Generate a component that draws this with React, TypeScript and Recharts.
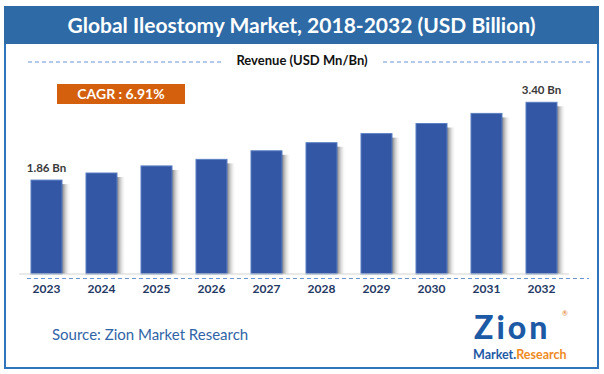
import React from 'react';
import { BarChart, Bar, XAxis, YAxis, LabelList } from 'recharts';

const years = ['2023', '2024', '2025', '2026', '2027', '2028', '2029', '2030', '2031', '2032'];
const revenue = [1.86, 2.0, 2.14, 2.27, 2.44, 2.6, 2.78, 2.98, 3.18, 3.4];
const labelledYears = ['2023', '2032'];

const chartData = years.map((year, i) => ({
  year,
  revenue: revenue[i],
  label: labelledYears.includes(year) ? `${revenue[i].toFixed(2)} Bn` : '',
}));

const FONT = 'Lato, "Open Sans", sans-serif';

const ShadowBar = (props: any) => {
  const { x, y, width, height } = props;
  return (
    <g>
      <rect x={x + width} y={y + 4} width={9} height={height - 4} fill="url(#barShadow)" />
      <rect x={x} y={y} width={width} height={height} fill="#3356a5" stroke="#5b7fc2" strokeWidth={1} />
    </g>
  );
};

const YearTick = (props: any) => {
  const { x, y, payload } = props;
  return (
    <text x={x} y={y} dy={11} textAnchor="middle" fontFamily={FONT} fontWeight={700} fontSize={12} fill="#1f3864">
      {payload.value}
    </text>
  );
};

const BarLabel = (props: any) => {
  const { x, y, width, value } = props;
  if (!value) return null;
  return (
    <text x={x + width / 2} y={y - 8} textAnchor="middle" fontFamily={FONT} fontWeight={700} fontSize={11.5} fill="#3a3a3a">
      {value}
    </text>
  );
};

export default function App() {
  return (
    <div style={{ position: 'absolute', left: 0, top: 0, width: 604, height: 374, background: '#fff', fontFamily: FONT }}>
      <div
        style={{
          position: 'absolute', left: 4, top: 6, width: 595, height: 363,
          border: '2.5px solid #2f75bc', boxSizing: 'border-box',
        }}
      />
      <div
        style={{
          position: 'absolute', left: 4, top: 6, width: 595, height: 38, background: '#2d6aa6',
          color: '#fff', fontWeight: 700, fontSize: 21, lineHeight: '38px', textAlign: 'center',
        }}
      >
        Global Ileostomy Market, 2018-2032 (USD Billion)
      </div>
      <div
        style={{
          position: 'absolute', left: 0, top: 51, width: 604, textAlign: 'center',
          fontSize: 13, fontWeight: 700, color: '#111', lineHeight: '18px',
        }}
      >
        Revenue (USD Mn/Bn)
      </div>
      <div
        style={{
          position: 'absolute', left: 57, top: 84, width: 128, height: 20, background: '#d45f0c',
          color: '#fff', fontWeight: 700, fontSize: 14, lineHeight: '20px', textAlign: 'center',
        }}
      >
        CAGR : 6.91%
      </div>

      <svg style={{ position: 'absolute', left: 0, top: 0 }} width={604} height={374}>
        <line x1={28} y1={62} x2={222} y2={62} stroke="#6a93d4" strokeWidth={1} strokeDasharray="4 3" />
        <line x1={383} y1={62} x2={590} y2={62} stroke="#6a93d4" strokeWidth={1} strokeDasharray="4 3" />
        <line x1={27} y1={278.5} x2={589} y2={278.5} stroke="#6a93d4" strokeWidth={1} strokeDasharray="4 3" />
      </svg>

      <div style={{ position: 'absolute', left: 0, top: 0 }}>
        <BarChart width={604} height={374} data={chartData} margin={{ top: 72, right: 35, left: 19, bottom: 70 }}>
          <defs>
            <linearGradient id="barShadow" x1="0" y1="0" x2="1" y2="0">
              <stop offset="0%" stopColor="#7d7d7d" />
              <stop offset="100%" stopColor="#ffffff" stopOpacity={0} />
            </linearGradient>
          </defs>
          <XAxis
            dataKey="year"
            height={30}
            axisLine={{ stroke: '#d4d4d4' }}
            tickLine={false}
            tick={<YearTick />}
            interval={0}
          />
          <YAxis hide domain={[0, 4]} />
          <Bar dataKey="revenue" barSize={31} shape={<ShadowBar />} isAnimationActive={false}>
            <LabelList dataKey="label" content={<BarLabel />} />
          </Bar>
        </BarChart>
      </div>

      <div
        style={{
          position: 'absolute', left: 52, top: 324, fontSize: 15, color: '#2f65a8', lineHeight: '20px',
        }}
      >
        Source: Zion Market Research
      </div>

      <div
        style={{
          position: 'absolute', left: 474, top: 312, fontSize: 32, fontWeight: 900,
          color: '#1c5aa6', lineHeight: '30px', letterSpacing: 3, whiteSpace: 'nowrap',
        }}
      >
        Zion
      </div>
      <div style={{ position: 'absolute', left: 562, top: 309, fontSize: 7, lineHeight: '8px', color: '#e07b1a' }}>®</div>
      <div
        style={{
          position: 'absolute', left: 473, top: 347.5, fontSize: 12.5, fontWeight: 700, lineHeight: '14px',
          whiteSpace: 'nowrap',
        }}
      >
        <span style={{ color: '#1c5aa6' }}>Market</span>
        <span style={{ color: '#1c5aa6' }}>.</span>
        <span style={{ color: '#f08a1c' }}>Research</span>
      </div>
    </div>
  );
}
